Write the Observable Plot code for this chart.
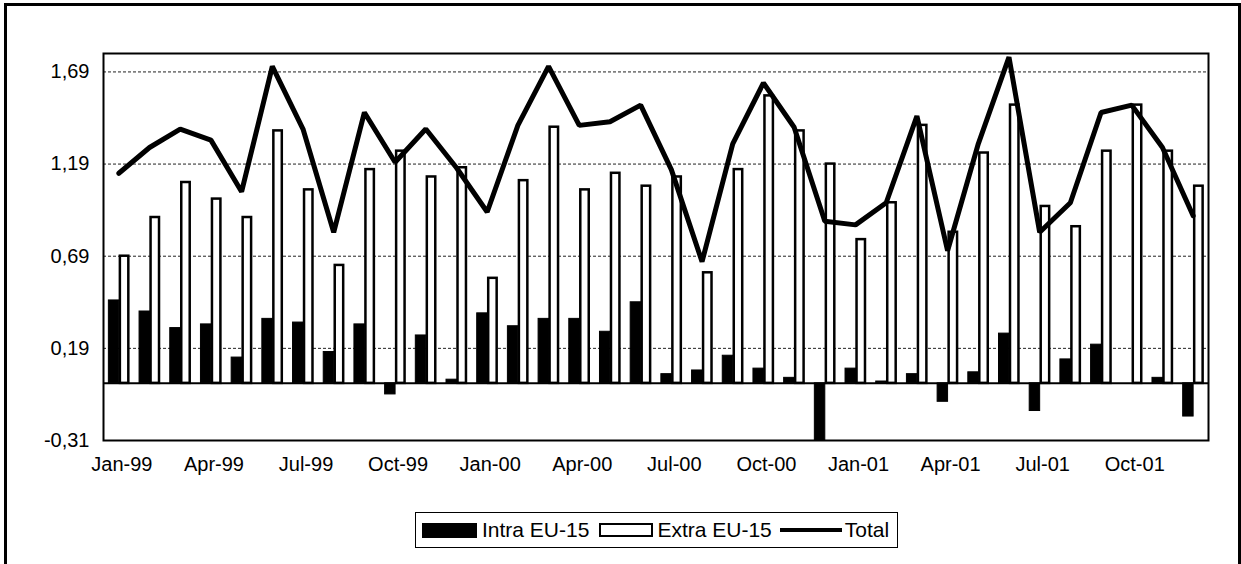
<!DOCTYPE html>
<html><head><meta charset="utf-8">
<script src="https://cdn.jsdelivr.net/npm/d3@7"></script>
<script src="https://cdn.jsdelivr.net/npm/@observablehq/plot@0.6"></script>
<style>
html,body{margin:0;padding:0;background:#fff;overflow:hidden}
#wrap{position:relative;width:1241px;height:564px;overflow:hidden;font-family:"Liberation Sans",Arial,sans-serif}
#frame{position:absolute;left:4px;top:3px;width:1231px;height:640px;border:3px solid #000;pointer-events:none}
#chart svg{display:block}
#legwrap{padding-left:415px;padding-top:12px}
#legend{display:inline-flex;align-items:center;height:34px;border:1px solid #000;background:#fff;padding:0 8px 0 6px;font-size:21px;color:#000;white-space:nowrap}
.sw1{display:inline-block;width:55px;height:15px;background:#000;margin-right:5px}
.sw2{display:inline-block;width:50px;height:10px;border:2px solid #000;background:#fff;margin:0 4px 0 10px}
.sw3{display:inline-block;width:62px;height:4px;background:#000;margin:0 3px 0 8px}
</style></head>
<body>
<div id="wrap">
<div id="chart"></div>
<div id="legwrap"><div id="legend"><span class="sw1"></span><span>Intra EU-15</span><span class="sw2"></span><span>Extra EU-15</span><span class="sw3"></span><span>Total</span></div></div>
<div id="frame"></div>
</div>
<script>
const months = ["Jan-99","Feb-99","Mar-99","Apr-99","May-99","Jun-99","Jul-99","Aug-99","Sep-99","Oct-99","Nov-99","Dec-99",
"Jan-00","Feb-00","Mar-00","Apr-00","May-00","Jun-00","Jul-00","Aug-00","Sep-00","Oct-00","Nov-00","Dec-00",
"Jan-01","Feb-01","Mar-01","Apr-01","May-01","Jun-01","Jul-01","Aug-01","Sep-01","Oct-01","Nov-01","Dec-01"];
const xTickLabels = ["Jan-99","Apr-99","Jul-99","Oct-99","Jan-00","Apr-00","Jul-00","Oct-00","Jan-01","Apr-01","Jul-01","Oct-01"];
const yTicks = [-0.31, 0.19, 0.69, 1.19, 1.69];
const intra = [0.45,0.39,0.30,0.32,0.14,0.35,0.33,0.17,0.32,-0.06,0.26,0.02,0.38,0.31,0.35,0.35,0.28,0.44,0.05,0.07,0.15,0.08,0.03,-0.31,0.08,0.01,0.05,-0.10,0.06,0.27,-0.15,0.13,0.21,0.00,0.03,-0.18];
const extra = [0.69,0.90,1.09,1.00,0.90,1.37,1.05,0.64,1.16,1.26,1.12,1.17,0.57,1.10,1.39,1.05,1.14,1.07,1.12,0.60,1.16,1.56,1.37,1.19,0.78,0.98,1.40,0.82,1.25,1.51,0.96,0.85,1.26,1.51,1.26,1.07];
const total = [1.14,1.28,1.38,1.32,1.04,1.72,1.38,0.82,1.47,1.20,1.38,1.17,0.93,1.40,1.72,1.40,1.42,1.51,1.16,0.66,1.30,1.63,1.39,0.88,0.86,0.98,1.45,0.72,1.30,1.77,0.82,0.98,1.47,1.51,1.28,0.91];

const fmt = d => d.toFixed(2).replace(".", ",");
const chart = Plot.plot({
  width: 1241, height: 500,
  marginLeft: 103, marginRight: 33, marginTop: 53, marginBottom: 60,
  style: {fontFamily: '"Liberation Sans", Arial, sans-serif', fontSize: "20px", color: "#000", background: "transparent", overflow: "visible"},
  x: {type: "band", domain: months, paddingInner: 0.35, paddingOuter: 0.175, round: false},
  y: {domain: [-0.31, 1.79]},
  marks: [
    Plot.ruleY(yTicks.slice(1), {stroke: "#222", strokeWidth: 1, strokeDasharray: "3,2"}),
    Plot.barY(intra, {x: months, y: intra, fill: "#000", stroke: "#000", strokeWidth: 1, insetRight: 9.5}),
    Plot.barY(extra, {x: months, y: extra, fill: "#fff", stroke: "#000", strokeWidth: 2.5, insetLeft: 11.5}),
    Plot.ruleY([0], {stroke: "#000", strokeWidth: 2}),
    Plot.line(total, {x: months, y: total, stroke: "#000", strokeWidth: 5, strokeLinejoin: "miter"}),
    Plot.frame({stroke: "#000", strokeWidth: 2}),
    Plot.axisX({ticks: xTickLabels, tickSize: 0, tickPadding: 16, fontSize: 20, dx: 3, label: null}),
    Plot.axisY({ticks: yTicks, tickFormat: fmt, tickSize: 0, tickPadding: 14, fontSize: 20, label: null})
  ]
});
document.getElementById("chart").appendChild(chart);
</script>
</body></html>
